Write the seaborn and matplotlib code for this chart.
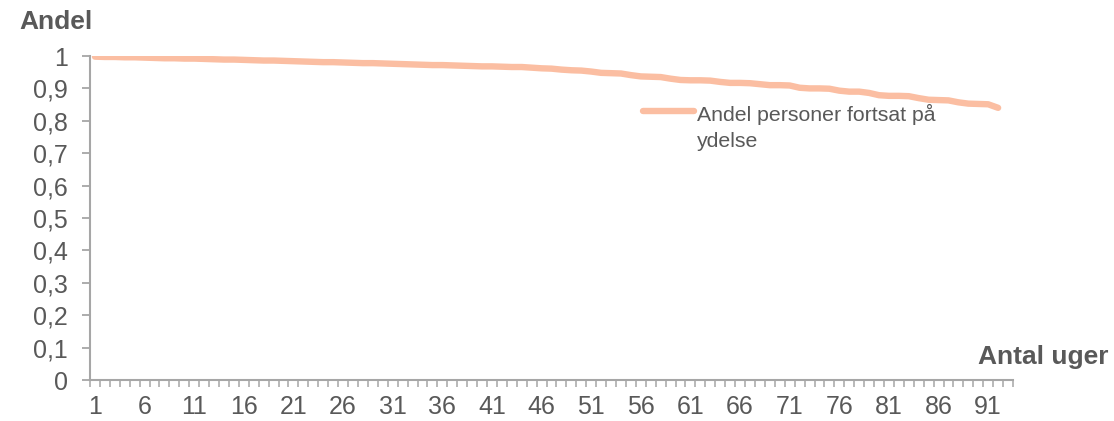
import numpy as np
import pandas as pd
import matplotlib
matplotlib.use("Agg")
import matplotlib.pyplot as plt
from matplotlib.ticker import FixedLocator, FuncFormatter
import seaborn as sns

# Share of persons still on benefit, by number of weeks
weeks = list(range(1, 93))
andel = [
    0.998, 0.997, 0.997, 0.996, 0.996, 0.995, 0.994, 0.993, 0.993, 0.992,
    0.992, 0.991, 0.990, 0.989, 0.989, 0.988, 0.987, 0.986, 0.986, 0.985,
    0.984, 0.983, 0.982, 0.981, 0.981, 0.980, 0.979, 0.978, 0.978, 0.977,
    0.976, 0.975, 0.974, 0.973, 0.972, 0.972, 0.971, 0.970, 0.969, 0.968,
    0.968, 0.967, 0.966, 0.966, 0.964, 0.962, 0.961, 0.958, 0.956, 0.955,
    0.952, 0.948, 0.947, 0.946, 0.941, 0.937, 0.936, 0.935, 0.930, 0.926,
    0.925, 0.925, 0.924, 0.920, 0.917, 0.917, 0.916, 0.913, 0.910, 0.910,
    0.909, 0.902, 0.900, 0.900, 0.899, 0.893, 0.890, 0.890, 0.886, 0.879,
    0.877, 0.877, 0.876, 0.870, 0.865, 0.864, 0.863, 0.857, 0.853, 0.852,
    0.851, 0.840,
]
n_categories = 93
x_tick_labels = [str(w) for w in range(1, 92, 5)]
y_ticks = [i / 10 for i in range(0, 11)]
series_name = "Andel personer fortsat på\nydelse"

df = pd.DataFrame({"uge": weeks, "andel": andel})

sns.set_theme(style="white")
plt.rcParams["font.family"] = ["Liberation Sans", "DejaVu Sans"]

TEXT = "#595959"
AXIS = "#a6a6a6"
LINE = "#fbbea2"

fig = plt.figure(figsize=(11.14, 4.21), dpi=100)
ax = fig.add_axes([90 / 1114, 1 - 380 / 421, (1013 - 90) / 1114, (380 - 56) / 421])

sns.lineplot(data=df, x="uge", y="andel", ax=ax, color=LINE, linewidth=4.6,
             solid_capstyle="round", label=series_name, legend=False)

ax.set_xlim(0.5, n_categories + 0.5)
ax.set_ylim(0, 1)
ax.set_xlabel("")
ax.set_ylabel("")

# x axis: labels every 5th week, tick marks between every week
ax.xaxis.set_major_locator(FixedLocator([int(t) for t in x_tick_labels]))
ax.set_xticklabels(x_tick_labels)
ax.xaxis.set_minor_locator(FixedLocator(np.arange(0.5, n_categories + 1, 1.0)))
ax.tick_params(axis="x", which="major", length=0, pad=11, labelsize=18, labelcolor=TEXT)
ax.tick_params(axis="x", which="minor", bottom=True, length=5, width=1.1, color=AXIS, direction="out")

ax.set_yticks(y_ticks)
ax.yaxis.set_major_formatter(FuncFormatter(lambda v, _: f"{v:g}".replace(".", ",")))
ax.tick_params(axis="y", which="major", left=True, length=6, width=1.3, color=AXIS,
               direction="out", pad=10, labelsize=18, labelcolor=TEXT)

for side in ("top", "right"):
    ax.spines[side].set_visible(False)
for side in ("left", "bottom"):
    ax.spines[side].set_color(AXIS)
    ax.spines[side].set_linewidth(1.5)

ax.grid(False)

fig.text(19 / 1114, 1 - 22 / 421, "Andel", fontsize=19, fontweight="bold", color=TEXT,
         ha="left", va="center")
fig.text(1109 / 1114, 1 - 357 / 421, "Antal uger", fontsize=19, fontweight="bold", color=TEXT,
         ha="right", va="center")

handles, labels = ax.get_legend_handles_labels()
leg = ax.legend(handles, labels, loc="upper left", bbox_to_anchor=(643 / 1114, 1 - 104 / 421),
                bbox_transform=fig.transFigure, frameon=False, fontsize=15.3,
                handlelength=2.4, handletextpad=0.12, borderpad=0, borderaxespad=0,
                labelspacing=0.2, labelcolor=TEXT)
for txt in leg.get_texts():
    txt.set_linespacing(1.45)
# keep the legend line level with the first line of its label
for column in leg._legend_handle_box.get_children():
    for entry in column.get_children():
        entry.align = "top"

fig.savefig("out.png", dpi=100)
